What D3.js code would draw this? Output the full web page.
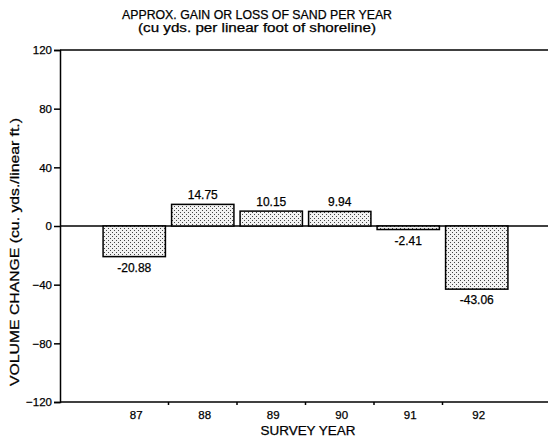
<!DOCTYPE html>
<html><head><meta charset="utf-8">
<script src="https://cdn.jsdelivr.net/npm/d3@7"></script>
<style>body{margin:0;background:#fff}svg{display:block}text{font-family:"Liberation Sans",Arial,sans-serif;fill:#000;stroke:#000;stroke-width:0.25px}</style>
</head><body><svg id="c" width="550" height="438"></svg>
<script>
const years = ["87","88","89","90","91","92"];
const values = [-20.88, 14.75, 10.15, 9.94, -2.41, -43.06];
const labels = ["-20.88","14.75","10.15","9.94","-2.41","-43.06"];
const yTicks = [-120,-80,-40,0,40,80,120];
const title1 = "APPROX. GAIN OR LOSS OF SAND PER YEAR";
const title2 = "(cu  yds. per linear foot of shoreline)";
const yTitle = "VOLUME CHANGE (cu. yds./linear ft.)";
const xTitle = "SURVEY YEAR";

const svg = d3.select("#c");
const L = 60, R = 548, T = 50, B = 402;
const y = d3.scaleLinear().domain([-120,120]).range([B,T]);
const x = d3.scaleBand().domain(years).range([100,511]).paddingInner(0.09).paddingOuter(0.045);

const defs = svg.append("defs");
const pat = defs.append("pattern").attr("id","dots").attr("patternUnits","userSpaceOnUse").attr("width",4).attr("height",4);
pat.append("rect").attr("width",4).attr("height",4).attr("fill","#f2f2f2");
pat.append("rect").attr("x",0).attr("y",0).attr("width",1).attr("height",1).attr("fill","#444");
pat.append("rect").attr("x",2).attr("y",2).attr("width",1).attr("height",1).attr("fill","#444");

// title
svg.append("text").attr("x",257).attr("y",19).attr("text-anchor","middle").attr("font-size",12.5)
  .attr("textLength",270).attr("lengthAdjust","spacingAndGlyphs").text(title1);
svg.append("text").attr("x",257).attr("y",32).attr("text-anchor","middle").attr("font-size",12.5)
  .attr("textLength",238).attr("lengthAdjust","spacingAndGlyphs").text(title2);

// frame lines
const g = svg.append("g");
[120,0,-120].forEach(v=>{
  g.append("line").attr("x1",L).attr("x2",R).attr("y1",y(v)).attr("y2",y(v)).attr("stroke","#000").attr("stroke-width",1.5);
});

// y axis
const ya = svg.append("g").attr("transform",`translate(${L},0)`)
  .call(d3.axisLeft(y).tickValues(yTicks).tickSize(6).tickPadding(2).tickFormat(d3.format("d")));
ya.select(".domain").attr("stroke-width",1.5);
ya.selectAll(".tick line").attr("stroke-width",1.5);
ya.selectAll("text").attr("font-size",11.5).attr("font-family","Liberation Sans,Arial,sans-serif");

// x axis: ticks between bands
const bounds = years.slice(1).map(d => x(d) - x.step()*x.paddingInner()/2);
svg.append("g").selectAll("line").data(bounds).join("line")
  .attr("x1",d=>d).attr("x2",d=>d).attr("y1",B).attr("y2",B+3).attr("stroke","#000").attr("stroke-width",1.5);
svg.append("g").selectAll("text").data(years).join("text")
  .attr("x",d=>x(d)+x.bandwidth()/2+2).attr("y",419).attr("text-anchor","middle").attr("font-size",11.5).text(d=>d);

// bars
const data = years.map((d,i)=>({year:d,v:values[i],lab:labels[i]}));
svg.append("g").selectAll("rect").data(data).join("rect")
  .attr("x",d=>x(d.year)).attr("width",x.bandwidth())
  .attr("y",d=>y(Math.max(0,d.v))).attr("height",d=>Math.abs(y(d.v)-y(0)))
  .attr("fill","url(#dots)").attr("stroke","#000").attr("stroke-width",1.5);
svg.append("g").selectAll("text").data(data).join("text")
  .attr("x",d=>x(d.year)+x.bandwidth()/2).attr("text-anchor","middle").attr("font-size",12)
  .attr("y",d=>d.v>=0 ? y(d.v)-5 : y(d.v)+15).text(d=>d.lab);

// axis titles
svg.append("text").attr("x",308).attr("y",435).attr("text-anchor","middle").attr("font-size",12.5)
  .attr("textLength",95).attr("lengthAdjust","spacingAndGlyphs").text(xTitle);
svg.append("text").attr("transform","translate(19,252) rotate(-90)").attr("text-anchor","middle").attr("font-size",12.5)
  .attr("textLength",268).attr("lengthAdjust","spacingAndGlyphs").text(yTitle);
</script></body></html>
